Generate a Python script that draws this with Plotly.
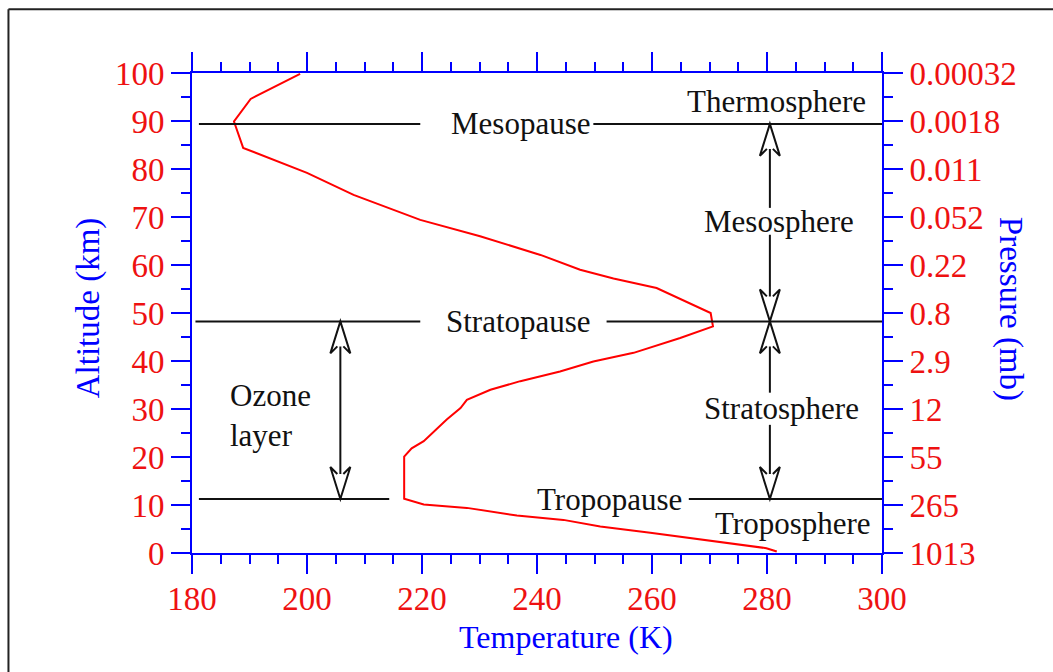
import plotly.graph_objects as go

# ---- data ----
temperature_k = [198.8, 190.2, 187.3, 188.9, 200.0, 208.1, 219.7, 230.1, 240.6, 247.5,
                 253.3, 260.8, 270.2, 270.6, 264.9, 256.8, 249.8, 244.0, 237.1, 231.9,
                 227.8, 226.7, 224.3, 220.3, 218.2, 216.9, 216.9, 216.9, 220.3, 227.8,
                 236.5, 244.6, 251.0, 259.7, 279.9, 281.7]
altitude_km = [99.8, 94.6, 89.9, 84.4, 79.2, 74.6, 69.4, 66.0, 62.1, 59.0,
               57.2, 55.2, 50.0, 47.2, 44.8, 41.7, 39.9, 37.8, 35.8, 34.0,
               31.9, 30.2, 27.8, 23.3, 21.8, 20.1, 18.0, 11.3, 10.1, 9.4,
               7.8, 6.9, 5.5, 4.2, 1.0, 0.3]

alt_ticks = [0, 10, 20, 30, 40, 50, 60, 70, 80, 90, 100]
pressure_labels = ["1013", "265", "55", "12", "2.9", "0.8", "0.22", "0.052",
                   "0.011", "0.0018", "0.00032"]
temp_ticks = [180, 200, 220, 240, 260, 280, 300]

# boundary layers (altitude km)
pause_names = ["Mesopause", "Stratopause", "Tropopause"]
pause_alt = [89.4, 48.25, 11.25]
pause_label_t = [237.1, 236.7, 252.6]
# line segments left/right of the label (temperature K)
pause_segments = [
    [(181.2, 219.7), (249.8, 300.0)],
    [(180.6, 219.7), (252.1, 300.0)],
    [(181.2, 214.3), (266.4, 300.7)],
]

sphere_names = ["Thermosphere", "Mesosphere", "Stratosphere", "Troposphere"]
sphere_t = [281.7, 282.0, 282.6, 284.5]
sphere_alt = [94.0, 69.1, 30.2, 6.25]

ozone_t = 205.8
sphere_arrow_t = 280.5
# shaft pieces (altitude ranges) for the arrows
ozone_shaft = [(48.25, 11.25)]
sphere_shafts = [(89.4, 71.9), (66.3, 48.25), (48.25, 33.4), (26.7, 11.25)]

FONT = "Liberation Serif, Times New Roman, serif"
RED = "#ee1111"
BLUE = "#0000ff"
BLACK = "#111111"
LABEL_SIZE = 31
AXIS_SIZE = 33

fig = go.Figure()
fig.add_trace(go.Scatter(x=temperature_k, y=altitude_km, mode="lines",
                         line=dict(color="#ff0000", width=2), showlegend=False,
                         hoverinfo="skip"))
fig.add_trace(go.Scatter(x=[None], y=[None], xaxis="x2", yaxis="y2", showlegend=False,
                         hoverinfo="skip"))

shapes = []
# pause lines
for alt, segs in zip(pause_alt, pause_segments):
    for (a, b) in segs:
        shapes.append(dict(type="line", xref="x", yref="y", x0=a, x1=b, y0=alt, y1=alt,
                           line=dict(color=BLACK, width=2), layer="above"))
# shafts
for (a, b) in ozone_shaft:
    shapes.append(dict(type="line", xref="x", yref="y", x0=ozone_t, x1=ozone_t, y0=a, y1=b,
                       line=dict(color=BLACK, width=2), layer="above"))
for (a, b) in sphere_shafts:
    shapes.append(dict(type="line", xref="x", yref="y", x0=sphere_arrow_t, x1=sphere_arrow_t,
                       y0=a, y1=b, line=dict(color=BLACK, width=2), layer="above"))

UP_HEAD = "M -3,-25 L -10,-32 L 0,0 L 10,-32 L 3,-25"
DOWN_HEAD = "M -3,25 L -10,32 L 0,0 L 10,32 L 3,25"


def head(xv, yv, up):
    return dict(type="path", xref="x", yref="y", xsizemode="pixel", ysizemode="pixel",
                xanchor=xv, yanchor=yv, path=UP_HEAD if up else DOWN_HEAD,
                fillcolor="white", line=dict(color=BLACK, width=2), layer="above")


shapes += [
    head(ozone_t, pause_alt[1], True), head(ozone_t, pause_alt[2], False),
    head(sphere_arrow_t, pause_alt[0], True), head(sphere_arrow_t, pause_alt[1], False),
    head(sphere_arrow_t, pause_alt[1], True), head(sphere_arrow_t, pause_alt[2], False),
]
# outer frame (top and left edges visible)
shapes.append(dict(type="line", xref="paper", yref="paper", x0=-0.266, x1=1.4, y0=1.133,
                   y1=1.133, line=dict(color="#222222", width=2), layer="above"))
shapes.append(dict(type="line", xref="paper", yref="paper", x0=-0.266, x1=-0.266, y0=-0.4,
                   y1=1.133, line=dict(color="#222222", width=2), layer="above"))

annotations = []
for name, t, alt in zip(pause_names, pause_label_t, pause_alt):
    annotations.append(dict(x=t, y=alt, xref="x", yref="y", text=name, showarrow=False,
                            xanchor="center", yanchor="middle",
                            font=dict(family=FONT, size=LABEL_SIZE, color=BLACK)))
for name, t, alt in zip(sphere_names, sphere_t, sphere_alt):
    annotations.append(dict(x=t, y=alt, xref="x", yref="y", text=name, showarrow=False,
                            xanchor="center", yanchor="middle",
                            font=dict(family=FONT, size=LABEL_SIZE, color=BLACK)))
annotations.append(dict(x=186.3, y=28.6, xref="x", yref="y", text="Ozone<br>layer",
                        showarrow=False, align="left", xanchor="left", yanchor="middle",
                        font=dict(family=FONT, size=LABEL_SIZE, color=BLACK)))
annotations.append(dict(x=-0.150, y=0.511, xref="paper", yref="paper", text="Altitude (km)",
                        textangle=-90, showarrow=False, xanchor="center", yanchor="middle",
                        font=dict(family=FONT, size=AXIS_SIZE, color=BLUE)))
annotations.append(dict(x=1.186, y=0.508, xref="paper", yref="paper", text="Pressure (mb)",
                        textangle=90, showarrow=False, xanchor="center", yanchor="middle",
                        font=dict(family=FONT, size=AXIS_SIZE, color=BLUE)))
annotations.append(dict(x=0.542, y=-0.174, xref="paper", yref="paper", text="Temperature (K)",
                        showarrow=False, xanchor="center", yanchor="middle",
                        font=dict(family=FONT, size=LABEL_SIZE + 1, color=BLUE)))

axis_common = dict(showline=True, linecolor=BLUE, linewidth=2, ticks="outside", ticklen=19,
                   tickwidth=2, tickcolor=BLUE, showgrid=False, zeroline=False,
                   tickfont=dict(family=FONT, size=AXIS_SIZE, color=RED))
minor = dict(dtick=5, ticks="outside", ticklen=9, tickwidth=2, tickcolor=BLUE, showgrid=False)

fig.update_layout(
    width=1053, height=672,
    margin=dict(l=192, r=171, t=73, b=119),
    paper_bgcolor="white", plot_bgcolor="white",
    xaxis=dict(range=[180, 300], tickvals=temp_ticks, minor=minor, ticklabelstandoff=-4,
               **axis_common),
    xaxis2=dict(range=[180, 300], tickvals=temp_ticks, minor=minor, overlaying="x",
                side="top", showticklabels=False, **axis_common),
    yaxis=dict(range=[0, 100], tickvals=alt_ticks, minor=minor, **axis_common),
    yaxis2=dict(range=[0, 100], overlaying="y", side="right", tickvals=alt_ticks,
                ticktext=pressure_labels, minor=minor, **axis_common),
    shapes=shapes, annotations=annotations, showlegend=False,
)

fig.write_html("out.html")
